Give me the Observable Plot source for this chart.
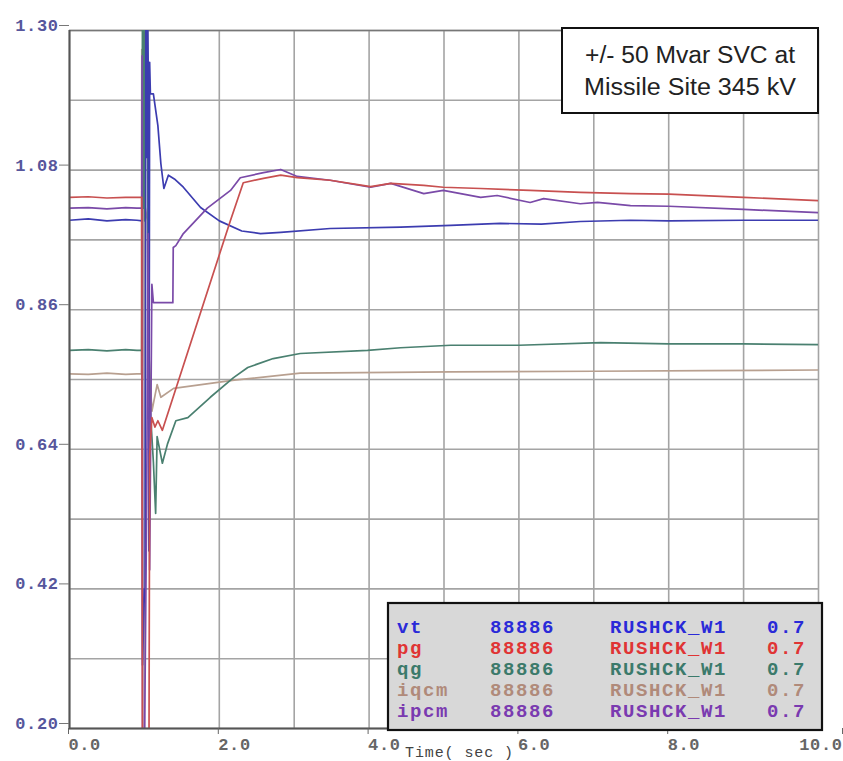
<!DOCTYPE html>
<html>
<head>
<meta charset="utf-8">
<script src="https://cdn.jsdelivr.net/npm/d3@7"></script>
<script src="https://cdn.jsdelivr.net/npm/@observablehq/plot@0.6"></script>
<style>
  html, body { margin: 0; padding: 0; background: #fff; overflow: hidden; }
</style>
</head>
<body>
<script>
// ---- series data (time in seconds, value in pu) ----
const vtTime = [0,0.25,0.5,0.75,0.9,0.97,0.975,1.0,1.01,1.02,1.03,1.04,1.05,1.06,1.07,1.08,1.1,1.12,1.18,1.22,1.26,1.32,1.4,1.52,1.75,2.0,2.3,2.55,2.82,3.48,4.42,5.09,5.75,6.3,6.82,7.49,8.0,9.0,10.0];
const vtValue = [1.001,1.003,1.000,1.002,1.001,1.0,0.30,0.42,0.40,1.36,1.10,1.36,1.25,0.48,1.25,1.20,1.20,1.20,1.15,1.09,1.051,1.072,1.066,1.053,1.021,1.000,0.984,0.980,0.982,0.988,0.990,0.993,0.996,0.995,0.999,1.001,1.000,1.001,1.001];

const pgTime = [0,0.25,0.5,0.75,0.9,0.965,0.975,1.06,1.07,1.085,1.1,1.14,1.18,1.24,2.15,2.32,2.59,2.82,3.04,3.48,4.02,4.29,4.73,4.99,5.49,6.15,6.82,7.49,8.0,9.0,10.0];
const pgValue = [1.037,1.038,1.036,1.037,1.037,1.037,0.10,0.10,0.63,0.66,0.69,0.675,0.685,0.670,1.001,1.060,1.067,1.072,1.068,1.064,1.054,1.059,1.056,1.053,1.051,1.048,1.045,1.043,1.042,1.037,1.032];

const qgTime = [0,0.25,0.5,0.75,0.9,0.965,0.975,0.985,0.995,1.005,1.015,1.04,1.05,1.08,1.12,1.15,1.17,1.24,1.31,1.42,1.58,1.88,2.19,2.38,2.72,3.08,3.98,4.42,5.09,6.0,7.09,8.0,9.0,10.0];
const qgValue = [0.796,0.797,0.795,0.797,0.796,0.796,1.40,1.02,1.40,1.00,1.40,1.40,0.86,0.70,0.62,0.539,0.66,0.618,0.649,0.685,0.690,0.722,0.753,0.769,0.783,0.791,0.796,0.800,0.804,0.804,0.808,0.806,0.806,0.805];

const iqcmTime = [0,0.25,0.5,0.75,0.9,0.96,0.965,0.975,0.985,1.04,1.055,1.1,1.17,1.22,1.39,2.2,3.08,5.09,7.0,8.5,10.0];
const iqcmValue = [0.759,0.758,0.760,0.758,0.759,0.759,1.27,0.75,1.04,1.00,0.80,0.70,0.742,0.722,0.736,0.749,0.760,0.762,0.763,0.764,0.765];

const ipcmTime = [0,0.25,0.5,0.75,0.9,0.965,0.97,0.975,1.0,1.03,1.05,1.07,1.1,1.12,1.38,1.385,1.42,1.52,1.84,2.15,2.28,2.59,2.82,3.04,3.48,4.02,4.29,4.73,4.99,5.49,5.71,6.15,6.33,6.82,7.05,7.49,8.0,9.0,10.0];
const ipcmValue = [1.020,1.021,1.019,1.021,1.020,1.020,1.26,0.20,0.15,0.55,0.98,0.45,0.90,0.871,0.871,0.958,0.961,0.980,1.020,1.048,1.068,1.076,1.081,1.070,1.064,1.053,1.059,1.043,1.048,1.037,1.040,1.029,1.035,1.027,1.029,1.024,1.023,1.018,1.013];

// ---- axis ticks / grid ----
const xGrid = [0,1,2,3,4,5,6,7,8,9,10];
const xTicks = [0,2,4,6,8];
const xLastTick = [10];
const yGrid = [0.20,0.31,0.42,0.53,0.64,0.75,0.86,0.97,1.08,1.19,1.30];
const yTicks = [0.20,0.42,0.64,0.86,1.08,1.30];

// ---- legend ----
const seriesNames = ["vt","pg","qg","iqcm","ipcm"];
const seriesBus = "88886";
const seriesBusName = "RUSHCK_W1";
const seriesKv = "0.7";
const lineColors = {vt:"#3c3cb0", pg:"#c85050", qg:"#4a8070", iqcm:"#b8a090", ipcm:"#7a4aa8"};
const legendColors = {vt:"#2a2ad8", pg:"#e03434", qg:"#3b7a6b", iqcm:"#b08a7a", ipcm:"#7a3ab0"};
const titleLines = ["+/- 50 Mvar SVC at", "Missile Site 345 kV"];
const xLabel = "Time( sec )";

const table = (name, ts, vs) => ts.map((t, i) => ({series: name, t, v: vs[i]}));
const drawOrder = [
  ["iqcm", iqcmTime, iqcmValue],
  ["qg", qgTime, qgValue],
  ["vt", vtTime, vtValue],
  ["ipcm", ipcmTime, ipcmValue],
  ["pg", pgTime, pgValue]
];

const W = 843, H = 761;
const mono = "'Liberation Mono', 'DejaVu Sans Mono', monospace";

const lineMarks = drawOrder.map(([name, ts, vs]) =>
  Plot.line(table(name, ts, vs), {x: "t", y: "v", stroke: lineColors[name], strokeWidth: 1.7, clip: true, curve: "linear"})
);

const xAxisStyle = {tickFormat: d => d.toFixed(1), tickSize: 6, tickPadding: 3, stroke: "#666", fill: "#666", fontSize: 17, label: null};

const chart = Plot.plot({
  width: W, height: H,
  marginLeft: 69, marginRight: 25, marginTop: 30, marginBottom: 33,
  x: {domain: [0, 10]},
  y: {domain: [0.2, 1.3]},
  style: {background: "#fff", fontFamily: mono, fontSize: "16px", overflow: "visible"},
  marks: [
    Plot.ruleX(xGrid, {stroke: "#a4a4a4", strokeWidth: 1.6}),
    Plot.ruleY(yGrid, {stroke: "#a4a4a4", strokeWidth: 1.6}),
    Plot.ruleY([1.3], {stroke: "#777", strokeWidth: 1.6}),
    ...lineMarks,
    Plot.ruleX([0], {stroke: "#555", strokeWidth: 2}),
    Plot.ruleY([0.2], {stroke: "#555", strokeWidth: 2}),
    Plot.axisY({ticks: yTicks, tickFormat: d => d.toFixed(2), tickSize: 10, tickPadding: 1, stroke: "#777", fill: "#56569c", dy: -5, fontSize: 17, label: null}),
    Plot.axisX({...xAxisStyle, ticks: xTicks, textAnchor: "start", dx: -1}),
    Plot.axisX({...xAxisStyle, ticks: xLastTick, textAnchor: "end", dx: 24})
  ]
});
document.body.appendChild(chart);

const svg = d3.select(chart);
// slightly widen the monospace axis digits like the original plotting program
svg.selectAll('g[aria-label="y-axis tick label"] text, g[aria-label="x-axis tick label"] text')
  .attr("letter-spacing", 0.6).attr("font-weight", 600);

// x label (near the bottom edge, as in the picture)
svg.append("text").attr("x", 405).attr("y", 757).attr("text-anchor", "start")
  .attr("font-family", mono).attr("font-size", 15).attr("fill", "#444")
  .attr("letter-spacing", 0.9).text(xLabel);

// legend box
const lg = svg.append("g").attr("text-anchor", "start");
lg.append("rect").attr("x", 388).attr("y", 603).attr("width", 434).attr("height", 127)
  .attr("fill", "#d8d8d8").attr("stroke", "#111").attr("stroke-width", 2.2);
seriesNames.forEach((name, i) => {
  const y = 633 + 21 * i;
  const c = legendColors[name];
  const common = s => s.attr("font-family", mono).attr("font-size", 19).attr("font-weight", "bold")
      .attr("letter-spacing", 1.6).attr("fill", c).attr("y", y).attr("text-anchor", "start");
  common(lg.append("text")).attr("x", 397).text(name);
  common(lg.append("text")).attr("x", 490).text(seriesBus);
  common(lg.append("text")).attr("x", 610).text(seriesBusName);
  common(lg.append("text")).attr("x", 806).attr("text-anchor", "end").text(seriesKv);
});

// title box
const tg = svg.append("g");
tg.append("rect").attr("x", 562).attr("y", 28).attr("width", 256).attr("height", 85)
  .attr("fill", "#fff").attr("stroke", "#111").attr("stroke-width", 2);
titleLines.forEach((s, i) => {
  tg.append("text").attr("x", 690).attr("y", 63 + 32 * i).attr("text-anchor", "middle")
    .attr("font-family", "'Liberation Sans', Arial, sans-serif").attr("font-size", 23).attr("fill", "#222")
    .attr("textLength", i === 0 ? 210 : 212).attr("lengthAdjust", "spacingAndGlyphs").text(s);
});
</script>
</body>
</html>
